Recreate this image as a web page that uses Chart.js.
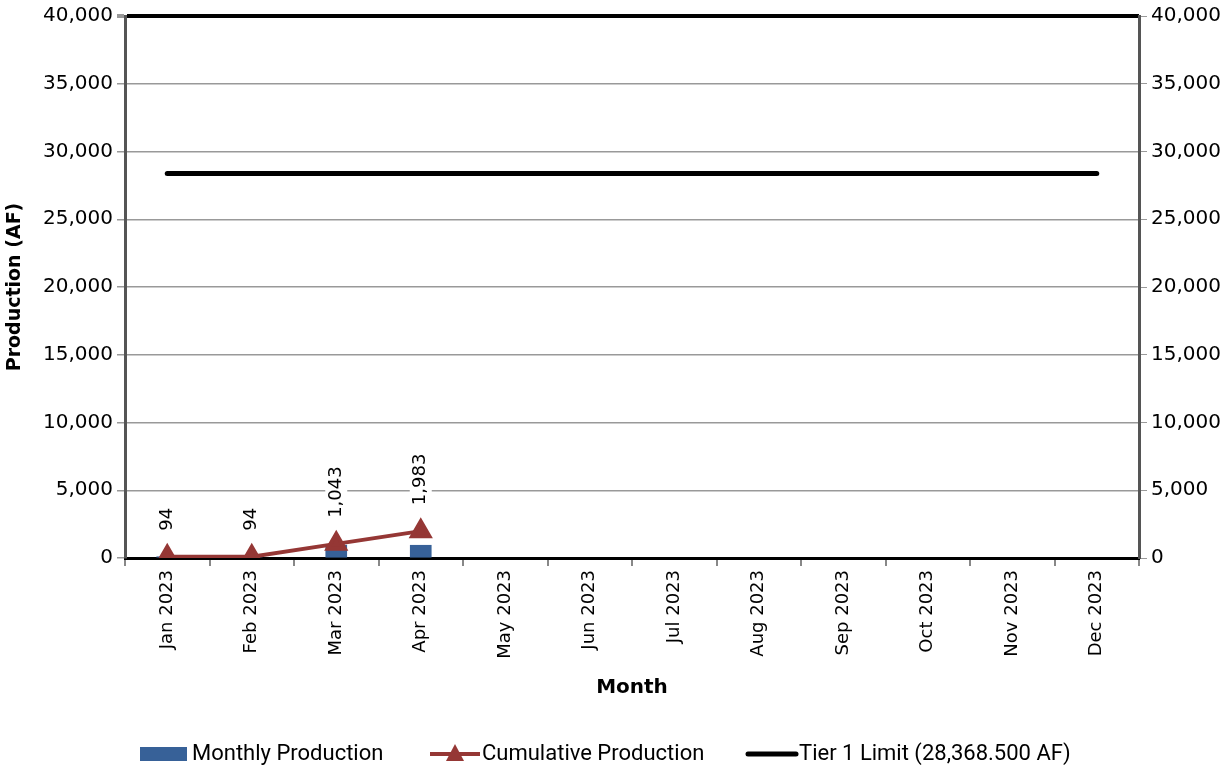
<!DOCTYPE html>
<html>
<head>
<meta charset="utf-8">
<script src="https://cdn.jsdelivr.net/npm/chart.js@4.4.0/dist/chart.umd.min.js"></script>
<style>
  body { margin: 0; background: #fff; }
  #wrap { width: 1231px; height: 770px; }
</style>
</head>
<body>
<div id="wrap"><canvas id="prodChart" width="1231" height="770"></canvas></div>
<script>
// chart values
const months = ["Jan 2023", "Feb 2023", "Mar 2023", "Apr 2023", "May 2023", "Jun 2023",
  "Jul 2023", "Aug 2023", "Sep 2023", "Oct 2023", "Nov 2023", "Dec 2023"];
const monthlyProduction = [94, 0, 949, 940, null, null, null, null, null, null, null, null];
const cumulativeProduction = [94, 94, 1043, 1983, null, null, null, null, null, null, null, null];
const tierLimit = [28368.5, 28368.5, 28368.5, 28368.5, 28368.5, 28368.5,
  28368.5, 28368.5, 28368.5, 28368.5, 28368.5, 28368.5];
const yTicks = [0, 5000, 10000, 15000, 20000, 25000, 30000, 35000, 40000];

const FONT = "'DejaVu Sans', sans-serif";
const LEGEND_FONT = "'Roboto', sans-serif";

const fmt = (v) => Number(v).toLocaleString("en-US");

// cumulative value labels, rotated, white box behind
const pointLabels = {
    id: "pointLabels",
    afterDatasetsDraw(chart) {
        const ctx = chart.ctx;
        const meta = chart.getDatasetMeta(1);
        ctx.save();
        ctx.font = "18px " + FONT;
        meta.data.forEach((pt, i) => {
            const v = cumulativeProduction[i];
            if (v == null) return;
            const txt = fmt(v);
            const w = ctx.measureText(txt).width;
            ctx.save();
            ctx.translate(pt.x, pt.y - 26);
            ctx.rotate(-Math.PI / 2);
            ctx.fillStyle = "#fff";
            ctx.fillRect(-2, -11, w + 4, 22);
            ctx.fillStyle = "#000";
            ctx.textAlign = "left";
            ctx.textBaseline = "middle";
            ctx.fillText(txt, 0, 0);
            ctx.restore();
        });
        ctx.restore();
    }
};

// legend row at the bottom
const bottomLegend = {
    id: "bottomLegend",
    afterDraw(chart) {
        const ctx = chart.ctx;
        const ds = chart.data.datasets;
        const y = 754;
        ctx.save();
        ctx.font = "22px " + LEGEND_FONT;
        ctx.textBaseline = "middle";
        ctx.fillStyle = ds[0].backgroundColor;
        ctx.fillRect(140, y - 7, 47, 14);
        ctx.fillStyle = "#000";
        ctx.fillText(ds[0].label, 192, y);

        ctx.strokeStyle = ds[1].borderColor;
        ctx.lineWidth = 4;
        ctx.beginPath(); ctx.moveTo(430, y); ctx.lineTo(480, y); ctx.stroke();
        ctx.fillStyle = ds[1].borderColor;
        ctx.beginPath(); ctx.moveTo(455, y - 10); ctx.lineTo(464, y + 7); ctx.lineTo(446, y + 7); ctx.closePath(); ctx.fill();
        ctx.fillStyle = "#000";
        ctx.fillText(ds[1].label, 482, y);

        ctx.strokeStyle = ds[2].borderColor;
        ctx.lineWidth = 5;
        ctx.lineCap = "round";
        ctx.beginPath(); ctx.moveTo(748, y); ctx.lineTo(796, y); ctx.stroke();
        ctx.fillText(ds[2].label, 799, y);
        ctx.restore();
    }
};

new Chart(document.getElementById("prodChart"), {
    type: "bar",
    data: {
        labels: months,
        datasets: [
            {
                type: "bar",
                label: "Monthly Production",
                data: monthlyProduction,
                backgroundColor: "#376198",
                barThickness: 21,
                yAxisID: "y",
                order: 3
            },
            {
                type: "line",
                label: "Cumulative Production",
                data: cumulativeProduction,
                borderColor: "#953735",
                backgroundColor: "#953735",
                borderWidth: 4,
                pointStyle: "triangle",
                pointRadius: 10,
                pointHoverRadius: 10,
                yAxisID: "y",
                order: 2
            },
            {
                type: "line",
                label: "Tier 1 Limit (28,368.500 AF)",
                data: tierLimit,
                borderColor: "#000",
                borderWidth: 5,
                borderCapStyle: "round",
                pointRadius: 0,
                yAxisID: "y",
                order: 1
            }
        ]
    },
    options: {
        responsive: false,
        animation: false,
        layout: { padding: { top: 15, bottom: 60, left: 0, right: 0 } },
        plugins: { legend: { display: false }, tooltip: { enabled: false } },
        scales: {
            x: {
                offset: true,
                grid: { offset: true, drawOnChartArea: false, color: "#888", lineWidth: 2, tickLength: 8 },
                border: { color: "#000", width: 3 },
                ticks: { color: "#000", font: { family: FONT, size: 18 }, minRotation: 90, maxRotation: 90, autoSkip: false, padding: 4 },
                title: { display: true, text: "Month", color: "#000", font: { family: FONT, size: 20, weight: "bold" }, padding: { top: 4, bottom: 10 } },
                afterFit(s) { s.height = 152; }
            },
            y: {
                position: "left",
                min: 0,
                max: 40000,
                afterBuildTicks(s) { s.ticks = yTicks.map(v => ({ value: v })); },
                grid: {
                    color: (c) => c.tick && c.tick.value === 40000 ? "#000" : "#999",
                    lineWidth: (c) => c.tick && c.tick.value === 40000 ? 4 : 1.5,
                    tickLength: 8,
                    tickColor: "#999"
                },
                border: { color: "#555", width: 3 },
                ticks: { color: "#000", font: { family: FONT, size: 20 }, padding: 4, callback: (v) => fmt(v) },
                title: { display: true, text: "Production (AF)", color: "#000", font: { family: FONT, size: 19, weight: "bold" }, padding: { top: 4, bottom: 4 } },
                afterFit(s) { s.width = 125; }
            },
            y2: {
                position: "right",
                min: 0,
                max: 40000,
                afterBuildTicks(s) { s.ticks = yTicks.map(v => ({ value: v })); },
                grid: { drawOnChartArea: false, tickLength: 8, color: "#999" },
                border: { color: "#555", width: 3 },
                ticks: { color: "#000", font: { family: FONT, size: 20 }, padding: 4, callback: (v) => fmt(v) },
                afterFit(s) { s.width = 92; }
            }
        }
    },
    plugins: [pointLabels, bottomLegend]
});
</script>
</body>
</html>
